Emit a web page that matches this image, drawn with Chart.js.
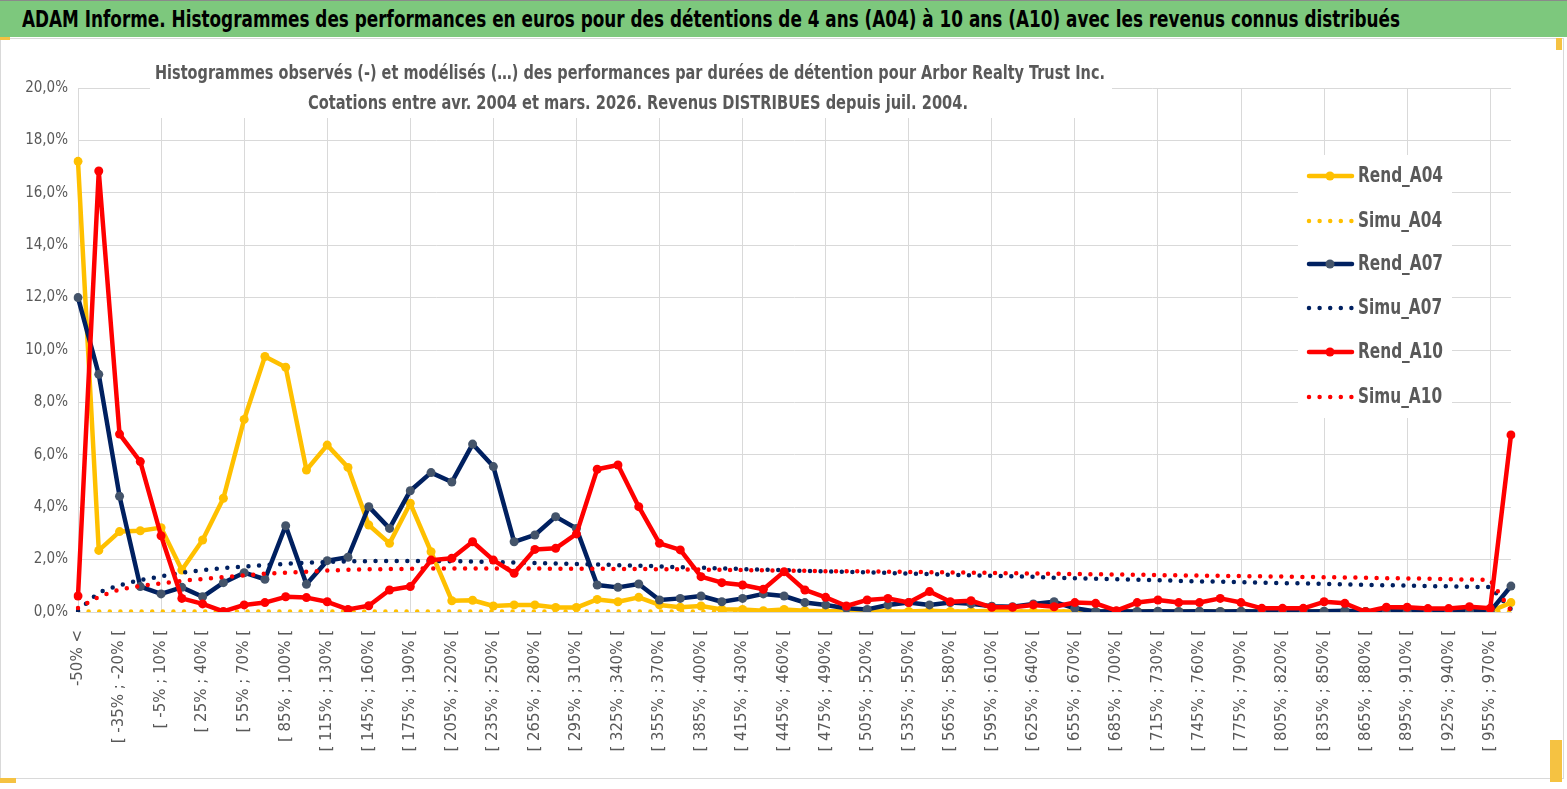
<!DOCTYPE html>
<html>
<head>
<meta charset="utf-8">
<script src="https://cdn.jsdelivr.net/npm/chart.js@4.4.1/dist/chart.umd.min.js"></script>
<style>
  body { margin: 0; width: 1567px; height: 789px; position: relative; background: #fff; overflow: hidden; }
  #banner {
    position: absolute; left: 0; top: 0; width: 1567px; height: 37px;
    background: #7dc87d; border-top: 1px solid #8a8a8a;
    box-sizing: border-box; padding-left: 22px; white-space: nowrap; overflow: hidden;
  }
  #bannerText {
    display: inline-block; transform-origin: 0 50%;
    font-family: "Liberation Sans Narrow", "DejaVu Sans Condensed", sans-serif;
    font-weight: bold; font-size: 23px; line-height: 36px; color: #000;
  }
  #frame { position: absolute; left: 0; top: 38px; width: 1562px; height: 739px; border: 1px solid #d9d9d9; }
  #chart { position: absolute; left: 0; top: 38px; }
  .handle { position: absolute; background: #f5c242; }
</style>
</head>
<body>
<div id="banner"><span id="bannerText">ADAM Informe. Histogrammes des performances en euros pour des détentions de 4 ans (A04) à 10 ans (A10) avec les revenus connus distribués</span></div>
<div id="frame"></div>
<canvas id="chart" width="1567" height="751"></canvas>
<div class="handle" style="left:0;top:37px;width:10px;height:3px"></div>
<div class="handle" style="left:1556px;top:38px;width:6px;height:12px"></div>
<div class="handle" style="left:0;top:778px;width:16px;height:5px"></div>
<div class="handle" style="left:1550px;top:740px;width:12px;height:42px"></div>
<script>
const categories = [
  "-50% <", "[ -50% ; -35% [", "[ -35% ; -20% [", "[ -20% ; -5% [", "[ -5% ; 10% [",
  "[ 10% ; 25% [", "[ 25% ; 40% [", "[ 40% ; 55% [", "[ 55% ; 70% [", "[ 70% ; 85% [",
  "[ 85% ; 100% [", "[ 100% ; 115% [", "[ 115% ; 130% [", "[ 130% ; 145% [", "[ 145% ; 160% [",
  "[ 160% ; 175% [", "[ 175% ; 190% [", "[ 190% ; 205% [", "[ 205% ; 220% [", "[ 220% ; 235% [",
  "[ 235% ; 250% [", "[ 250% ; 265% [", "[ 265% ; 280% [", "[ 280% ; 295% [", "[ 295% ; 310% [",
  "[ 310% ; 325% [", "[ 325% ; 340% [", "[ 340% ; 355% [", "[ 355% ; 370% [", "[ 370% ; 385% [",
  "[ 385% ; 400% [", "[ 400% ; 415% [", "[ 415% ; 430% [", "[ 430% ; 445% [", "[ 445% ; 460% [",
  "[ 460% ; 475% [", "[ 475% ; 490% [", "[ 490% ; 505% [", "[ 505% ; 520% [", "[ 520% ; 535% [",
  "[ 535% ; 550% [", "[ 550% ; 565% [", "[ 565% ; 580% [", "[ 580% ; 595% [", "[ 595% ; 610% [",
  "[ 610% ; 625% [", "[ 625% ; 640% [", "[ 640% ; 655% [", "[ 655% ; 670% [", "[ 670% ; 685% [",
  "[ 685% ; 700% [", "[ 700% ; 715% [", "[ 715% ; 730% [", "[ 730% ; 745% [", "[ 745% ; 760% [",
  "[ 760% ; 775% [", "[ 775% ; 790% [", "[ 790% ; 805% [", "[ 805% ; 820% [", "[ 820% ; 835% [",
  "[ 835% ; 850% [", "[ 850% ; 865% [", "[ 865% ; 880% [", "[ 880% ; 895% [", "[ 895% ; 910% [",
  "[ 910% ; 925% [", "[ 925% ; 940% [", "[ 940% ; 955% [", "[ 955% ; 970% [", "> 970%"
];

// values in %
const rendA04 = [
  17.2, 2.35, 3.07, 3.10, 3.22, 1.60, 2.75, 4.34, 7.35, 9.75,
  9.34, 5.42, 6.37, 5.52, 3.32, 2.62, 4.15, 2.30, 0.43, 0.45,
  0.23, 0.27, 0.27, 0.17, 0.17, 0.48, 0.39, 0.56, 0.27, 0.18,
  0.23, 0.10, 0.10, 0.05, 0.10, 0.05, 0.03, 0.03, 0.03, 0.02,
  0.02, 0.05, 0.02, 0.02, 0.05, 0.02, 0.02, 0.02, 0.02, 0.02,
  0.02, 0.02, 0.02, 0.02, 0.02, 0.02, 0.02, 0.02, 0.02, 0.02,
  0.02, 0.02, 0.02, 0.02, 0.02, 0.02, 0.02, 0.02, 0.02, 0.36
];
const simuA04 = [
  0.02, 0.02, 0.02, 0.02, 0.02, 0.02, 0.02, 0.02, 0.02, 0.02,
  0.02, 0.02, 0.02, 0.02, 0.02, 0.02, 0.02, 0.02, 0.02, 0.02,
  0.02, 0.02, 0.02, 0.02, 0.02, 0.02, 0.02, 0.02, 0.02, 0.02,
  0.02, 0.02, 0.02, 0.02, 0.02, 0.02, 0.02, 0.02, 0.02, 0.02,
  0.02, 0.02, 0.02, 0.02, 0.02, 0.02, 0.02, 0.02, 0.02, 0.02,
  0.02, 0.02, 0.02, 0.02, 0.02, 0.02, 0.02, 0.02, 0.02, 0.02,
  0.02, 0.02, 0.02, 0.02, 0.02, 0.02, 0.02, 0.02, 0.02, 0.02
];
const rendA07 = [
  12.0, 9.07, 4.42, 0.97, 0.69, 0.94, 0.58, 1.12, 1.50, 1.25,
  3.29, 1.06, 1.96, 2.09, 4.02, 3.19, 4.63, 5.32, 4.96, 6.41,
  5.55, 2.68, 2.94, 3.64, 3.19, 1.03, 0.94, 1.07, 0.46, 0.52,
  0.61, 0.39, 0.52, 0.69, 0.61, 0.36, 0.27, 0.14, 0.10, 0.27,
  0.36, 0.27, 0.36, 0.31, 0.22, 0.20, 0.31, 0.39, 0.14, 0.02,
  0.03, 0.02, 0.03, 0.02, 0.03, 0.02, 0.03, 0.02, 0.03, 0.02,
  0.03, 0.05, 0.02, 0.03, 0.02, 0.03, 0.02, 0.03, 0.02, 0.99
];
const simuA07 = [
  0.05, 0.75, 1.02, 1.22, 1.36, 1.50, 1.60, 1.68, 1.74, 1.79,
  1.84, 1.88, 1.91, 1.93, 1.94, 1.95, 1.95, 1.95, 1.94, 1.93,
  1.91, 1.89, 1.87, 1.85, 1.83, 1.81, 1.79, 1.77, 1.74, 1.71,
  1.69, 1.66, 1.64, 1.62, 1.60, 1.57, 1.55, 1.53, 1.51, 1.49,
  1.47, 1.45, 1.42, 1.40, 1.38, 1.36, 1.34, 1.31, 1.29, 1.27,
  1.25, 1.23, 1.21, 1.19, 1.17, 1.16, 1.14, 1.12, 1.10, 1.09,
  1.07, 1.05, 1.04, 1.02, 1.01, 0.99, 0.98, 0.96, 0.95, 0.10
];
const rendA10 = [
  0.61, 16.83, 6.79, 5.74, 2.91, 0.52, 0.31, 0.02, 0.27, 0.36,
  0.58, 0.55, 0.39, 0.10, 0.24, 0.84, 0.97, 1.98, 2.05, 2.68,
  1.98, 1.48, 2.39, 2.43, 2.98, 5.45, 5.61, 4.02, 2.62, 2.37,
  1.35, 1.12, 1.03, 0.87, 1.54, 0.84, 0.56, 0.23, 0.46, 0.52,
  0.36, 0.78, 0.39, 0.43, 0.18, 0.18, 0.27, 0.20, 0.36, 0.33,
  0.05, 0.36, 0.46, 0.36, 0.36, 0.52, 0.36, 0.14, 0.14, 0.14,
  0.39, 0.33, 0.01, 0.18, 0.18, 0.13, 0.13, 0.20, 0.14, 6.76
];
const simuA10 = [
  0.15, 0.58, 0.86, 0.99, 1.09, 1.19, 1.26, 1.33, 1.40, 1.46,
  1.50, 1.54, 1.58, 1.61, 1.63, 1.64, 1.65, 1.66, 1.66, 1.66,
  1.66, 1.66, 1.66, 1.65, 1.65, 1.65, 1.64, 1.64, 1.63, 1.63,
  1.62, 1.61, 1.60, 1.59, 1.58, 1.57, 1.56, 1.56, 1.55, 1.54,
  1.53, 1.52, 1.51, 1.50, 1.49, 1.48, 1.47, 1.46, 1.45, 1.44,
  1.43, 1.42, 1.41, 1.40, 1.39, 1.38, 1.37, 1.36, 1.35, 1.34,
  1.33, 1.32, 1.31, 1.29, 1.28, 1.27, 1.25, 1.24, 1.22, 0.05
];

const titleLines = [
  "Histogrammes observés (-) et modélisés (…) des performances par durées de détention pour Arbor Realty Trust Inc.",
  "Cotations entre avr. 2004 et mars. 2026. Revenus DISTRIBUES depuis juil. 2004."
];

const NARROW = '"Liberation Sans Narrow", "DejaVu Sans Condensed", sans-serif';
const GREY = "#595959";
const YELLOW = "#ffc000", NAVY = "#002060", RED = "#ff0000";

// squeeze the banner line to the width it has in the original
const bannerText = document.getElementById("bannerText");
const bw = bannerText.getBoundingClientRect().width;
bannerText.style.transform = "scaleX(" + (1378 / bw) + ")";

function rend(label, data, color, marker, order) {
  return {
    label, data, order,
    borderColor: color, backgroundColor: color,
    borderWidth: 4.5, borderJoinStyle: "round", borderCapStyle: "round",
    pointRadius: 4.5, pointBorderWidth: 0, pointBackgroundColor: marker,
    tension: 0
  };
}
function simu(label, data, color, order) {
  return {
    label, data, order,
    borderColor: color, backgroundColor: color,
    borderWidth: 4.5, borderDash: [0, 10.6], borderCapStyle: "round",
    pointRadius: 0, tension: 0
  };
}

const datasets = [
  rend("Rend_A04", rendA04, YELLOW, YELLOW, 6),
  simu("Simu_A04", simuA04, YELLOW, 5),
  rend("Rend_A07", rendA07, NAVY, "#44546a", 4),
  simu("Simu_A07", simuA07, NAVY, 3),
  rend("Rend_A10", rendA10, RED, RED, 2),
  simu("Simu_A10", simuA10, RED, 1)
];

// draw a text line squeezed horizontally (the original uses a condensed font)
function squeezeText(ctx, text, x, y, sx) {
  ctx.save();
  ctx.translate(x, y);
  ctx.scale(sx, 1);
  ctx.fillText(text, 0, 0);
  ctx.restore();
}

const decor = {
  id: "decor",
  afterDraw(chart) {
    const ctx = chart.ctx;
    ctx.save();
    // title box over the plot
    ctx.fillStyle = "#fff";
    ctx.fillRect(150, 12, 962, 68);
    ctx.fillStyle = GREY;
    ctx.font = "bold 19px " + NARROW;
    ctx.textAlign = "center";
    ctx.textBaseline = "middle";
    squeezeText(ctx, titleLines[0], 630, 36, 950 / ctx.measureText(titleLines[0]).width);
    squeezeText(ctx, titleLines[1], 638, 66, 660 / ctx.measureText(titleLines[1]).width);

    // legend
    ctx.fillStyle = "#fff";
    ctx.fillRect(1298, 117, 154, 263);
    const rowY = [138, 183, 226, 270, 314, 359];
    ctx.font = "bold 21px " + NARROW;
    const sx = 85 / ctx.measureText("Rend_A04").width;
    datasets.forEach((ds, i) => {
      const y = rowY[i];
      ctx.save();
      ctx.strokeStyle = ds.borderColor;
      ctx.lineWidth = ds.borderWidth;
      ctx.lineCap = "round";
      if (ds.borderDash) ctx.setLineDash(ds.borderDash);
      ctx.beginPath();
      ctx.moveTo(1309, y);
      ctx.lineTo(1352, y);
      ctx.stroke();
      ctx.setLineDash([]);
      if (ds.pointRadius) {
        ctx.fillStyle = ds.pointBackgroundColor;
        ctx.beginPath();
        ctx.arc(1330, y, ds.pointRadius, 0, Math.PI * 2);
        ctx.fill();
      }
      ctx.restore();
      ctx.fillStyle = GREY;
      ctx.textAlign = "left";
      ctx.textBaseline = "middle";
      squeezeText(ctx, ds.label, 1358, y + 1, sx);
    });
    ctx.restore();
  }
};

new Chart(document.getElementById("chart"), {
  type: "line",
  data: { labels: categories, datasets },
  options: {
    responsive: false,
    animation: false,
    layout: { padding: { top: 50, right: 56, left: 0, bottom: 0 } },
    plugins: { legend: { display: false }, title: { display: false }, tooltip: { enabled: false } },
    scales: {
      x: {
        offset: false,
        grid: {
          color: (c) => (c.index % 4 === 0 ? "#d9d9d9" : "rgba(0,0,0,0)"),
          drawTicks: false
        },
        border: { color: "#d9d9d9" },
        ticks: {
          autoSkip: false,
          minRotation: 90, maxRotation: 90,
          padding: 18,
          color: GREY,
          font: { family: '"DejaVu Sans", Verdana, sans-serif', size: 15 },
          callback: (v, i) => (i % 2 === 0 ? categories[i] : "")
        },
        afterFit: (s) => { s.height = 177; }
      },
      y: {
        min: 0, max: 20,
        grid: { color: "#d9d9d9", drawTicks: false },
        border: { display: false },
        ticks: {
          stepSize: 2,
          padding: 10,
          color: GREY,
          font: { family: NARROW, size: 15 },
          callback: (v) => v.toFixed(1).replace(".", ",") + "%"
        },
        afterFit: (s) => { s.width = 78; }
      }
    }
  },
  plugins: [decor]
});
</script>
</body>
</html>
